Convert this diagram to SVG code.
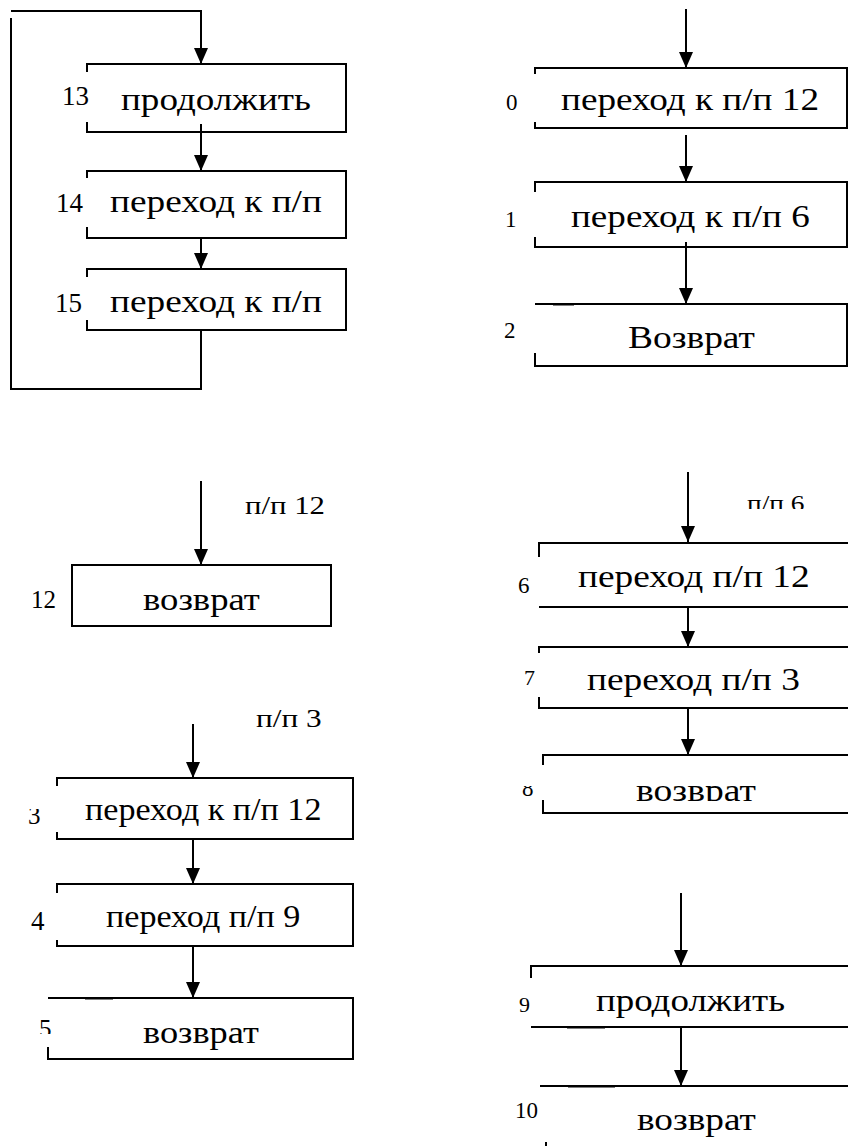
<svg xmlns="http://www.w3.org/2000/svg" width="848" height="1146" viewBox="0 0 848 1146" font-family="Liberation Serif, Times New Roman, serif">
<style>
.bx{fill:none;stroke:#000;stroke-width:2}
.cn{fill:none;stroke:#000;stroke-width:2}
.ar{fill:none;stroke:#000;stroke-width:2;marker-end:url(#ah)}
</style>
<defs>
<marker id="ah" markerUnits="userSpaceOnUse" markerWidth="16" markerHeight="14" refX="16" refY="7" orient="auto">
<path d="M0,0 L16,7 L0,14 z" fill="#000"/>
</marker>
<clipPath id="c3"><rect x="0" y="809" width="60" height="40"/></clipPath>
<clipPath id="c5"><rect x="0" y="1000" width="60" height="34"/></clipPath>
<clipPath id="c8"><rect x="500" y="786" width="40" height="30"/></clipPath>
<clipPath id="cv8"><rect x="560" y="770" width="288" height="31"/></clipPath>
<clipPath id="cp6"><rect x="700" y="470" width="148" height="39"/></clipPath>
</defs>
<rect width="848" height="1146" fill="#fff"/>

<g id="connectors">
<path class="ar" d="M11,11 H201 V64"/>
<path class="cn" d="M201,330 V389 H11 V18"/>
<path class="ar" d="M201,124 V171"/>
<path class="ar" d="M201,238 V269"/>
<path class="ar" d="M686,9 V68"/>
<path class="ar" d="M686,135 V182"/>
<path class="ar" d="M686,242 V304"/>
<path class="ar" d="M201,481 V565"/>
<path class="ar" d="M193,724 V778"/>
<path class="ar" d="M193,839 V884"/>
<path class="ar" d="M193,946 V998"/>
<path class="ar" d="M688,472 V542"/>
<path class="ar" d="M688,607 V647"/>
<path class="ar" d="M688,708 V755"/>
<path class="ar" d="M681,893 V966"/>
<path class="ar" d="M681,1027 V1086"/>
</g>

<g id="node13">
<path class="bx" d="M87,72 V64 H346 V132 H87 V122"/>
<text x="62" y="105" font-size="27">13</text>
<text transform="translate(121 110) scale(1.16 1)" font-size="32">продолжить</text>
</g>
<g id="node14">
<path class="bx" d="M87,178 V171 H346 V238 H87 V227"/>
<text x="56" y="212" font-size="27">14</text>
<text transform="translate(110 212) scale(1.165 1)" font-size="32">переход к п/п</text>
</g>
<g id="node15">
<path class="bx" d="M87,277 V269 H346 V330 H87 V320"/>
<text x="55" y="312" font-size="27">15</text>
<text transform="translate(110 312) scale(1.165 1)" font-size="32">переход к п/п</text>
</g>

<g id="node0">
<path class="bx" d="M535,74 V68 H847 V128 H535 V122"/>
<text x="506" y="110" font-size="23">0</text>
<text transform="translate(561 110) scale(1.163 1)" font-size="32">переход к п/п 12</text>
</g>
<g id="node1">
<path class="bx" d="M535,192 V182 H847 V247 H535 V237"/>
<text x="505" y="227" font-size="23">1</text>
<text transform="translate(571 227) scale(1.16 1)" font-size="32">переход к п/п 6</text>
</g>
<g id="node2">
<path class="bx" d="M535,304 H847 V366 H535 V353"/>
<path class="cn" d="M553,304.5 H574" stroke-width="3"/>
<text x="504" y="338" font-size="23">2</text>
<text transform="translate(628 348) scale(1.17 1)" font-size="32">Возврат</text>
</g>

<g id="node12">
<text transform="translate(245 514) scale(1.23 1)" font-size="25">п/п 12</text>
<rect class="bx" x="72" y="565" width="259" height="61"/>
<text x="31" y="608" font-size="25">12</text>
<text transform="translate(143 610) scale(1.146 1)" font-size="32">возврат</text>
</g>

<g id="node3">
<text transform="translate(256 727) scale(1.25 1)" font-size="25">п/п 3</text>
<path class="bx" d="M57,786 V778 H353 V839 H57 V832"/>
<text x="28" y="824" font-size="25" clip-path="url(#c3)">3</text>
<text transform="translate(85 820) scale(1.10 1)" font-size="31">переход к п/п 12</text>
</g>
<g id="node4">
<path class="bx" d="M57,893 V884 H353 V946 H57 V940"/>
<text x="31" y="930" font-size="27">4</text>
<text transform="translate(106 927) scale(1.10 1)" font-size="31">переход п/п 9</text>
</g>
<g id="node5">
<path class="bx" d="M48,998 H353 V1059 H48 V1047"/>
<path class="cn" d="M85,998.5 H113" stroke-width="3"/>
<text x="39" y="1037" font-size="25" clip-path="url(#c5)">5</text>
<text transform="translate(143 1043) scale(1.136 1)" font-size="32">возврат</text>
</g>

<g id="node6">
<g clip-path="url(#cp6)"><text transform="translate(747 511) scale(1.19 1)" font-size="23">п/п 6</text></g>
<path class="bx" d="M539,557 V543 H848"/>
<path class="bx" d="M539,607 H848"/>
<text x="518" y="593" font-size="23">6</text>
<text transform="translate(578 587) scale(1.168 1)" font-size="32">переход п/п 12</text>
</g>
<g id="node7">
<path class="bx" d="M539,653 V647 H848"/>
<path class="bx" d="M539,697 V708 H848"/>
<text x="524" y="685" font-size="22">7</text>
<text transform="translate(587 690) scale(1.167 1)" font-size="32">переход п/п 3</text>
</g>
<g id="node8">
<path class="bx" d="M543,765 V755 H848"/>
<path class="bx" d="M543,800 V813 H848"/>
<text x="522" y="796" font-size="23" clip-path="url(#c8)">8</text>
<g clip-path="url(#cv8)"><text transform="translate(636 801) scale(1.175 1)" font-size="32">возврат</text></g>
</g>

<g id="node9">
<path class="bx" d="M531,978 V966 H848"/>
<path class="bx" d="M531,1027 H848"/>
<path class="cn" d="M567,1027.5 H605" stroke-width="3"/>
<text x="519" y="1012" font-size="22">9</text>
<text transform="translate(596 1011) scale(1.154 1)" font-size="32">продолжить</text>
</g>
<g id="node10">
<path class="bx" d="M540,1086 H848"/>
<path class="cn" d="M568,1086.5 H615" stroke-width="3"/>
<path class="bx" d="M546,1142 V1146"/>
<text x="515" y="1118" font-size="23">10</text>
<text transform="translate(637 1130) scale(1.165 1)" font-size="32">возврат</text>
</g>
</svg>
